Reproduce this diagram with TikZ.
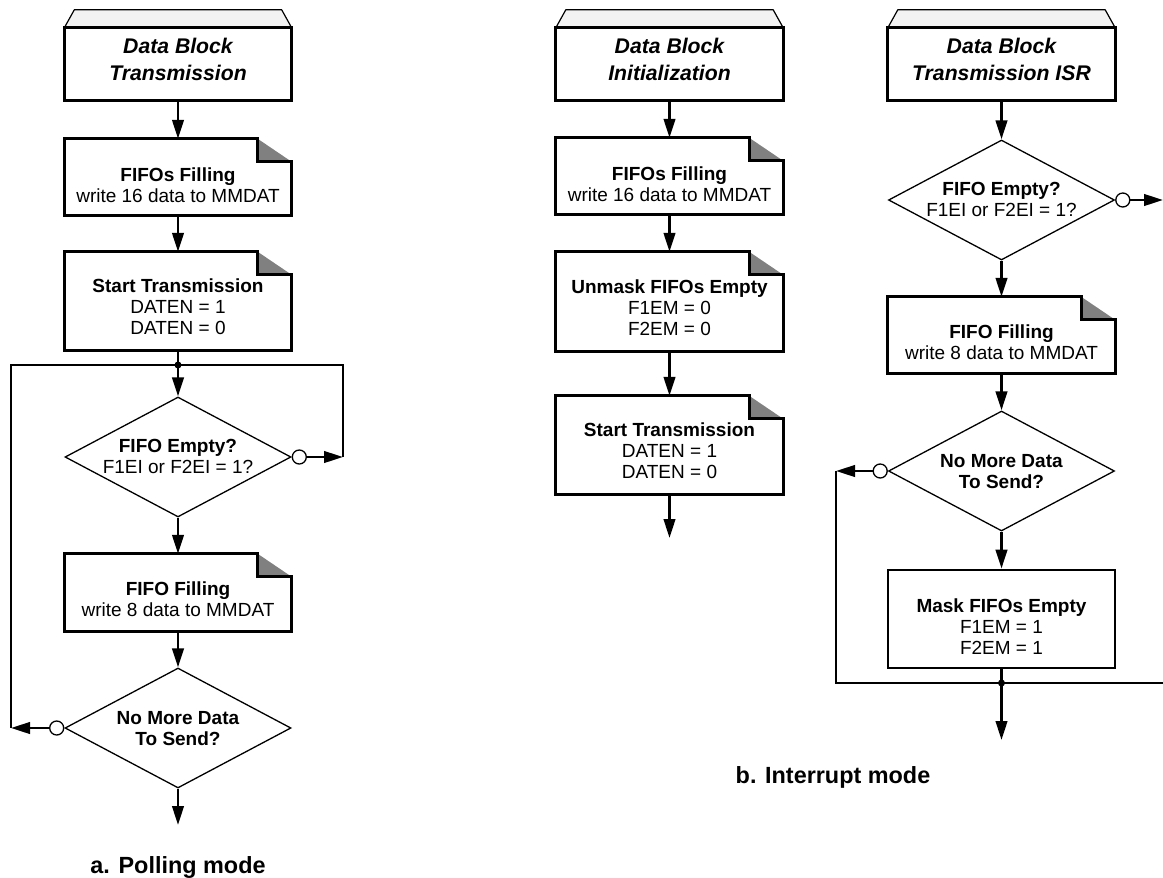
\documentclass[tikz,border=0pt]{standalone}
\usepackage{fontspec}
\setmainfont{Liberation Sans}
\usetikzlibrary{shapes.geometric,arrows.meta,calc}
\definecolor{foldgray}{HTML}{808080}
\definecolor{topgray}{HTML}{F3F3F3}
\newcommand\foldbox[4]{%
  \node[boxshape, minimum height=#4pt] (#1) at (#2,#3) {};
  \fill[foldgray] ([xshift=-34pt]#1.north east) -- ([yshift=-23pt]#1.north east) -- ([xshift=-34pt,yshift=-23pt]#1.north east) -- cycle;
  \draw[boxline] ([xshift=-34pt]#1.north east) -- (#1.north west) -- (#1.south west) -- (#1.south east) -- ([yshift=-23pt]#1.north east) -- ([xshift=-34pt,yshift=-23pt]#1.north east) -- cycle;
}
\newcommand\startbox[4]{%
  \node[boxshape, minimum height=#4pt] (#1) at (#2,#3) {};
  \filldraw[fill=topgray, line width=1.2pt, line join=round] (#1.north west) -- ([xshift=10pt,yshift=18pt]#1.north west) -- ([xshift=-10pt,yshift=18pt]#1.north east) -- (#1.north east) -- cycle;
  \draw[boxline] (#1.north west) rectangle (#1.south east);
}
\begin{document}
\begin{tikzpicture}[x=1pt,y=-1pt,
  boxshape/.style={rectangle, draw=none, inner sep=0, minimum width=227pt},
  boxline/.style={line width=2.8pt, line join=miter},
  txt/.style={anchor=north, inner sep=0, align=center, font=\fontsize{19}{21}\selectfont},
  ttl/.style={anchor=north, inner sep=0, align=center, font=\fontsize{21.2}{27}\selectfont\bfseries\itshape},
  captxt/.style={anchor=north, inner sep=0, font=\fontsize{23.4}{27}\selectfont\bfseries},
  dec/.style={diamond, draw, fill=white, line width=1.3pt, minimum width=226pt, minimum height=120pt, inner sep=0},
  circ/.style={circle, draw, fill=white, line width=1.3pt, minimum size=14pt, inner sep=0},
  arr/.style={line width=2.6pt, -{Triangle[length=19pt,width=11.5pt]}},
  con/.style={line width=2.6pt},
  jdot/.style={circle, fill, inner sep=0, minimum size=7pt},
]
\useasboundingbox (0,0) rectangle (1163,878);

% ---------------- a. Polling mode ----------------
\startbox{a0}{178}{64}{72}
\node[ttl] (a0t) at (178,37.5) {Data Block\\Transmission};
\foldbox{a1}{178}{177}{76}
\node[txt] (a1t) at (178,168) {\textbf{FIFOs Filling}\\write 16 data to MMDAT};
\foldbox{a2}{178}{301}{98}
\node[txt] (a2t) at (178,279) {\textbf{Start Transmission}\\DATEN = 1\\DATEN = 0};
\coordinate (aj) at (178,365);
\node[dec] (ad1) at (178,457) {};
\node[txt] (ad1t) at (178,439) {\textbf{FIFO Empty?}\\F1EI or F2EI = 1?};
\node[circ, anchor=west] (ac1) at (ad1.east) {};
\foldbox{a3}{178}{592.5}{77}
\node[txt] (a3t) at (178,581.5) {\textbf{FIFO Filling}\\write 8 data to MMDAT};
\node[dec] (ad2) at (178,728) {};
\node[txt] (ad2t) at (178,711.5) {\textbf{No More Data}\\\textbf{To Send?}};
\node[circ, anchor=east] (ac2) at (ad2.west) {};
\coordinate (ar1) at (343,457);
\coordinate (ar2) at (343,365);
\coordinate (al1) at (11,365);
\coordinate (al2) at (11,728);
\coordinate (aout) at (178,825);
\node[captxt] (acap) at (178,856.5) {a. Polling mode};

\draw[arr] (a0.south) -- (a1.north);
\draw[arr] (a1.south) -- (a2.north);
\draw[con] (a2.south) -- (aj);
\draw[arr] (aj) -- (ad1.north);
\draw[arr] (ac1.east) -- (ar1);
\draw[con] (ar1) -- (ar2) -- (al1) -- (al2);
\draw[arr] (ac2.west) -- (al2);
\draw[arr] (ad1.south) -- (a3.north);
\draw[arr] (a3.south) -- (ad2.north);
\draw[arr] (ad2.south) -- (aout);
\node[jdot] (ajd) at (aj) {};

% ---------------- b. Interrupt mode (init) ----------------
\startbox{b0}{669.5}{64}{72}
\node[ttl] (b0t) at (669.5,37.5) {Data Block\\Initialization};
\foldbox{b1}{669.5}{176}{76}
\node[txt] (b1t) at (669.5,167) {\textbf{FIFOs Filling}\\write 16 data to MMDAT};
\foldbox{b2}{669.5}{301.5}{99}
\node[txt] (b2t) at (669.5,279.5) {\textbf{Unmask FIFOs Empty}\\F1EM = 0\\F2EM = 0};
\foldbox{b3}{669.5}{445}{98}
\node[txt] (b3t) at (669.5,423) {\textbf{Start Transmission}\\DATEN = 1\\DATEN = 0};
\coordinate (bout) at (669.5,538);
\draw[arr] (b0.south) -- (b1.north);
\draw[arr] (b1.south) -- (b2.north);
\draw[arr] (b2.south) -- (b3.north);
\draw[arr] (b3.south) -- (bout);

% ---------------- ISR ----------------
\startbox{c0}{1001.5}{64}{72}
\node[ttl] (c0t) at (1001.5,37.5) {Data Block\\Transmission ISR};
\node[dec] (cd1) at (1001.5,200) {};
\node[txt] (cd1t) at (1001.5,182) {\textbf{FIFO Empty?}\\F1EI or F2EI = 1?};
\node[circ, anchor=west] (cc1) at (cd1.east) {};
\coordinate (cr1) at (1163,200);
\foldbox{c2}{1001.5}{335}{76}
\node[txt] (c2t) at (1001.5,324.5) {\textbf{FIFO Filling}\\write 8 data to MMDAT};
\node[dec] (cd2) at (1001.5,471) {};
\node[txt] (cd2t) at (1001.5,454.5) {\textbf{No More Data}\\\textbf{To Send?}};
\node[circ, anchor=east] (cc2) at (cd2.west) {};
\node[boxshape, draw, line width=2.8pt, minimum height=98pt] (c4) at (1001.5,619) {};
\node[txt] (c4t) at (1001.5,598.5) {\textbf{Mask FIFOs Empty}\\F1EM = 1\\F2EM = 1};
\coordinate (cj) at (1001.5,683);
\coordinate (cl1) at (836,471);
\coordinate (cl2) at (836,683);
\coordinate (cr2) at (1163,683);
\coordinate (cout) at (1001.5,740);
\node[captxt] (bcap) at (833,766.5) {b. Interrupt mode};

\draw[arr] (c0.south) -- (cd1.north);
\draw[arr] (cc1.east) -- (cr1);
\draw[arr] (cd1.south) -- (c2.north);
\draw[arr] (c2.south) -- (cd2.north);
\draw[arr] (cc2.west) -- (cl1);
\draw[con] (cl1) -- (cl2) -- (cr2);
\draw[arr] (cd2.south) -- (c4.north);
\draw[con] (c4.south) -- (cj);
\draw[arr] (cj) -- (cout);
\node[jdot] (cjd) at (cj) {};
\end{tikzpicture}
\end{document}
